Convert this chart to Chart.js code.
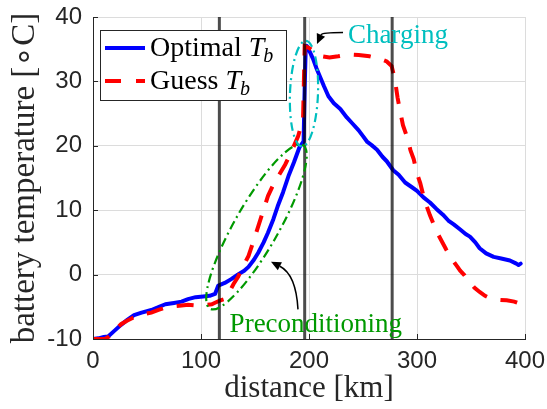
<!DOCTYPE html>
<html>
<head>
<meta charset="utf-8">
<script src="https://cdn.jsdelivr.net/npm/chart.js@4.4.0/dist/chart.umd.min.js"></script>
<style>
  html, body { margin: 0; padding: 0; background: #fff; }
</style>
</head>
<body>
<canvas id="tempChart" width="547" height="409"></canvas>
<script>
// distance [km] / battery temperature [oC]
const optimalDist = [0, 5, 10, 14, 20, 26, 32, 38, 45, 54, 60, 67, 75, 82, 88, 95, 102, 108, 113, 116,
  122, 128, 134, 140, 144, 149, 153, 158, 162, 167, 171, 176, 181, 186, 191, 195, 196, 197, 198, 201,
  204, 207, 210, 214, 218, 223, 229, 235, 240, 246, 250, 254, 258, 263, 268, 272, 278, 283, 289, 295,
  300, 306, 312, 318, 324, 329, 334, 340, 345, 349, 354, 358, 364, 371, 378, 386, 392, 394, 396];
const optimalTemp = [-10, -9.9, -9.7, -9.6, -8.7, -7.8, -7.0, -6.3, -5.9, -5.5, -5.1, -4.6, -4.4, -4.2, -3.8, -3.5, -3.4, -3.3, -3.0, -1.7,
  -1.3, -0.7, 0, 0.6, 1.2, 2.3, 3.4, 5.0, 6.5, 8.6, 10.6, 12.8, 15.3, 17.4, 19.7, 20.7, 29, 35.3, 35.5, 34.5,
  33.4, 32.0, 30.8, 29.2, 27.7, 26.6, 25.7, 24.4, 23.5, 22.4, 21.5, 20.6, 20.1, 19.4, 18.3, 17.6, 16.2, 15.5, 14.3, 13.6,
  13.0, 12.0, 11.2, 10.2, 9.3, 8.4, 7.8, 7.0, 6.3, 5.9, 5.0, 4.1, 3.3, 2.75, 2.5, 2.2, 1.7, 1.5, 1.7];

const guessDist = [0, 11, 15, 20, 26, 31, 37, 45, 54, 60, 67, 75, 82, 88, 95, 100, 105, 110, 114, 118,
  122, 126, 130, 134.5, 139, 144, 148, 153, 157, 162, 167, 171.6, 178, 184, 190, 194.5, 196, 200, 205, 212,
  219, 227, 237, 246, 256, 266, 272, 276.5, 279.5, 282, 284, 287, 290.5, 294, 297, 300, 303, 306, 309, 312,
  315, 320, 327, 332, 337, 340, 344, 348, 353, 358, 363, 368, 374, 383, 390, 395];
const guessTemp = [-10, -10, -9.6, -8.7, -7.7, -7.2, -6.7, -6.2, -5.9, -5.5, -5.1, -4.9, -4.8, -4.7, -4.8, -4.8, -4.7, -4.6, -4.3, -4.0,
  -3.8, -2.8, -1.5, -0.3, 1.3, 2.9, 4.9, 7.5, 9.6, 12.2, 14.0, 15.3, 17.1, 19.2, 21.5, 24.2, 35.5, 35.2, 34.6, 33.9,
  33.7, 33.9, 34.2, 34.1, 33.9, 33.5, 33.1, 32.4, 30.3, 27.5, 25.7, 23.2, 21.5, 19.3, 17.9, 15.7, 14.2, 12.2, 10.6, 9.2,
  8.0, 6.1, 3.9, 2.5, 1.3, 0.6, -0.1, -1.0, -2.0, -2.7, -3.3, -3.7, -3.9, -4.0, -4.2, -4.5];

// vertical markers (km)
const markerDist = [117, 196, 277];

const xTicks = [0, 100, 200, 300, 400];
const yTicks = [-10, 0, 10, 20, 30, 40];

const GREEN = 'rgb(0,153,0)';
const CYAN = 'rgb(0,191,191)';

// annotation shapes, given in data units
const ellipses = [
  { from: [108.3, -5.3], to: [194.4, 20.1], halfWidth: 22, color: GREEN },
  { from: [193.5, 19.9], to: [197.2, 36.3], halfWidth: 14, color: CYAN }
];
const arrows = [
  { start: [231.5, 37.6], ctrl: [212, 37.6], tip: [207.4, 35.8] },
  { start: [189.8, -5.4], ctrl: [188, 0], tip: [164.8, 2.0] }
];
const labels = [
  { text: 'Charging', at: [236, 36.0], color: CYAN },
  { text: 'Preconditioning', at: [126.5, -8.9], color: GREEN }
];

const toXY = (xs, ys) => xs.map((x, i) => ({ x: x, y: ys[i] }));

const markerSets = markerDist.map(d => ({
  data: [{ x: d, y: -10 }, { x: d, y: 40 }],
  borderColor: 'rgba(0,0,0,0.7)',
  borderWidth: 3,
  pointRadius: 0,
  order: 0
}));

const overlayPlugin = {
  id: 'overlay',
  afterDatasetsDraw(chart) {
    const { ctx, scales: { x, y }, chartArea } = chart;
    const px = p => [x.getPixelForValue(p[0]), y.getPixelForValue(p[1])];
    ctx.save();

    // inward tick marks
    ctx.strokeStyle = '#262626';
    ctx.lineWidth = 1;
    ctx.beginPath();
    xTicks.forEach(t => {
      const xp = Math.round(x.getPixelForValue(t)) + 0.5;
      ctx.moveTo(xp, chartArea.bottom);
      ctx.lineTo(xp, chartArea.bottom - 5);
    });
    yTicks.forEach(t => {
      const yp = Math.round(y.getPixelForValue(t)) + 0.5;
      ctx.moveTo(chartArea.left, yp);
      ctx.lineTo(chartArea.left + 5, yp);
    });
    ctx.stroke();

    // ellipses
    ellipses.forEach(e => {
      const [x1, y1] = px(e.from);
      const [x2, y2] = px(e.to);
      const cx = (x1 + x2) / 2, cy = (y1 + y2) / 2;
      const a = Math.hypot(x2 - x1, y2 - y1) / 2;
      const ang = Math.atan2(y2 - y1, x2 - x1);
      ctx.beginPath();
      ctx.ellipse(cx, cy, a, e.halfWidth, ang, 0, Math.PI * 2);
      ctx.strokeStyle = e.color;
      ctx.lineWidth = 2.2;
      ctx.setLineDash([9, 4, 2, 4]);
      ctx.stroke();
    });
    ctx.setLineDash([]);

    // curved arrows
    arrows.forEach(a => {
      const [sx, sy] = px(a.start);
      const [cx, cy] = px(a.ctrl);
      const [tx, ty] = px(a.tip);
      const ang = Math.atan2(ty - cy, tx - cx);
      const hl = 10, hw = 4.5;
      const bx = tx - hl * Math.cos(ang), by = ty - hl * Math.sin(ang);
      ctx.beginPath();
      ctx.moveTo(sx, sy);
      ctx.quadraticCurveTo(cx, cy, bx, by);
      ctx.strokeStyle = '#000';
      ctx.lineWidth = 1.5;
      ctx.stroke();
      ctx.beginPath();
      ctx.moveTo(tx, ty);
      ctx.lineTo(bx + hw * Math.sin(ang), by - hw * Math.cos(ang));
      ctx.lineTo(bx - hw * Math.sin(ang), by + hw * Math.cos(ang));
      ctx.closePath();
      ctx.fillStyle = '#000';
      ctx.fill();
    });

    // text labels
    ctx.font = '27px "Liberation Serif"';
    ctx.textBaseline = 'alphabetic';
    ctx.textAlign = 'left';
    labels.forEach(l => {
      const [lx, ly] = px(l.at);
      ctx.fillStyle = l.color;
      ctx.fillText(l.text, lx, ly);
    });

    // legend (Optimal first, then Guess)
    ctx.fillStyle = '#fff';
    ctx.fillRect(100.5, 30.5, 186, 70);
    ctx.strokeStyle = '#262626';
    ctx.lineWidth = 1;
    ctx.strokeRect(100.5, 30.5, 186, 70);
    const legendOrder = ['Optimal', 'Guess'];
    const rows = [48, 81];
    legendOrder.forEach((name, i) => {
      const ds = chart.data.datasets.find(d => d.label === name);
      const ry = rows[i];
      ctx.beginPath();
      ctx.moveTo(105, ry);
      ctx.lineTo(145, ry);
      ctx.strokeStyle = ds.borderColor;
      ctx.lineWidth = 4;
      ctx.setLineDash(ds.borderDash ? [16, 15] : []);
      ctx.stroke();
      ctx.setLineDash([]);
      ctx.fillStyle = '#000';
      ctx.font = '28px "Liberation Serif"';
      let tx = 150;
      const base = ry + 8;
      const word = ds.label + ' ';
      ctx.fillText(word, tx, base);
      tx += ctx.measureText(word).width;
      ctx.font = 'italic 28px "Liberation Serif"';
      ctx.fillText('T', tx, base);
      tx += ctx.measureText('T').width - 1;
      ctx.font = 'italic 20px "Liberation Serif"';
      ctx.fillText('b', tx, base + 6);
    });
    ctx.restore();
  }
};

new Chart(document.getElementById('tempChart'), {
  type: 'line',
  data: {
    datasets: [
      ...markerSets,
      {
        label: 'Guess',
        data: toXY(guessDist, guessTemp),
        borderColor: 'rgb(255,0,0)',
        borderWidth: 4,
        borderDash: [17, 14],
        pointRadius: 0,
        tension: 0,
        order: 1
      },
      {
        label: 'Optimal',
        data: toXY(optimalDist, optimalTemp),
        borderColor: 'rgb(0,0,255)',
        borderWidth: 4,
        borderJoinStyle: 'round',
        borderCapStyle: 'round',
        pointRadius: 0,
        tension: 0,
        order: 2
      }
    ]
  },
  options: {
    responsive: false,
    animation: false,
    layout: { padding: { top: 17, right: 22, left: 0, bottom: 0 } },
    plugins: { legend: { display: false }, tooltip: { enabled: false } },
    scales: {
      x: {
        type: 'linear',
        min: 0,
        max: 400,
        afterBuildTicks: s => { s.ticks = xTicks.map(v => ({ value: v })); },
        afterFit: s => { s.height = 70; s.paddingLeft = 0; s.paddingRight = 0; },
        ticks: { color: '#262626', font: { family: 'Liberation Sans', size: 24 }, padding: 8 },
        grid: { color: '#dcdcdc', drawTicks: false },
        border: { color: '#262626', width: 1 },
        title: {
          display: true,
          text: 'distance [km]',
          color: '#262626',
          font: { family: 'Liberation Serif', size: 31 },
          padding: { top: 0, bottom: 2 }
        }
      },
      y: {
        min: -10,
        max: 40,
        afterBuildTicks: s => { s.ticks = yTicks.map(v => ({ value: v })); },
        afterFit: s => { s.width = 93; s.paddingTop = 0; s.paddingBottom = 0; },
        ticks: { color: '#262626', font: { family: 'Liberation Sans', size: 24 }, padding: 11 },
        grid: { color: '#dcdcdc', drawTicks: false },
        border: { color: '#262626', width: 1 },
        title: {
          display: true,
          text: 'battery temperature [∘C]',
          color: '#262626',
          font: { family: 'Liberation Serif', size: 33 },
          padding: { top: 6, bottom: 0 }
        }
      }
    }
  },
  plugins: [overlayPlugin]
});
</script>
</body>
</html>
